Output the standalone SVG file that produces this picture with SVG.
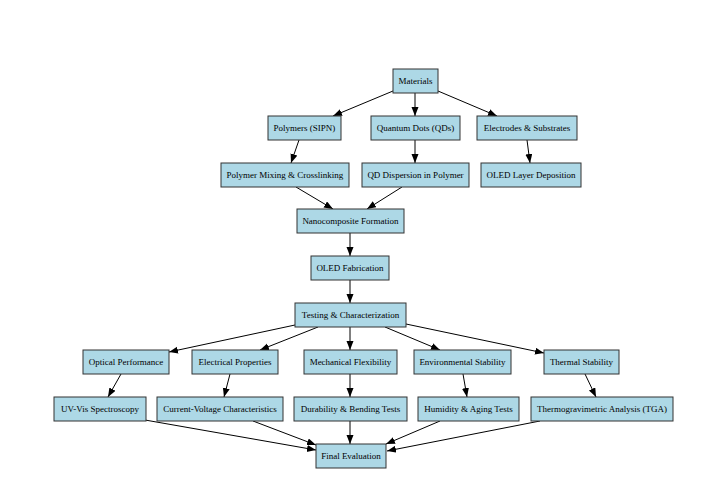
<svg xmlns="http://www.w3.org/2000/svg" width="716" height="480" viewBox="0 0 716 480">
<defs>
<style>
.n rect{fill:#add8e6;stroke:#333;stroke-width:1}
.n text{font-family:"Liberation Serif","Times New Roman",serif;font-size:9px;fill:#000;text-anchor:middle;dominant-baseline:central}
.e line{stroke:#000;stroke-width:1;marker-end:url(#ah)}
</style>
<marker id="ah" markerUnits="userSpaceOnUse" markerWidth="10" markerHeight="8" refX="9" refY="3.5" orient="auto">
<path d="M0,0 L9,3.5 L0,7 Z" fill="#000"/>
</marker>
</defs>
<rect width="716" height="480" fill="#fff"/>
<g id="edges" class="e">
<line x1="393" y1="91" x2="333" y2="116"/>
<line x1="415" y1="93" x2="415" y2="116"/>
<line x1="438" y1="91" x2="497" y2="116"/>
<line x1="299" y1="140" x2="291" y2="163"/>
<line x1="415" y1="140" x2="415" y2="163"/>
<line x1="527" y1="140" x2="530" y2="163"/>
<line x1="296" y1="187" x2="333" y2="209"/>
<line x1="402" y1="187" x2="367" y2="209"/>
<line x1="350" y1="233" x2="350" y2="256"/>
<line x1="350" y1="280" x2="350" y2="303"/>
<line x1="295" y1="325" x2="169" y2="352"/>
<line x1="318" y1="327" x2="260" y2="350"/>
<line x1="350" y1="327" x2="350" y2="350"/>
<line x1="385" y1="327" x2="440" y2="350"/>
<line x1="406" y1="324" x2="544" y2="353"/>
<line x1="121" y1="374" x2="108" y2="397"/>
<line x1="230" y1="374" x2="224" y2="397"/>
<line x1="350" y1="374" x2="350" y2="397"/>
<line x1="463" y1="374" x2="467" y2="397"/>
<line x1="585" y1="374" x2="596" y2="397"/>
<line x1="145" y1="420" x2="316" y2="450"/>
<line x1="253" y1="421" x2="316" y2="445"/>
<line x1="350" y1="421" x2="350" y2="444"/>
<line x1="440" y1="421" x2="386" y2="444"/>
<line x1="540" y1="421" x2="387" y2="451"/>
</g>
<g id="n_materials" class="n"><rect x="393" y="69" width="45" height="24"/><text x="415.5" y="81">Materials</text></g>
<g id="n_polymers" class="n"><rect x="268" y="116" width="73" height="24"/><text x="304.5" y="128">Polymers (SIPN)</text></g>
<g id="n_qds" class="n"><rect x="371" y="116" width="89" height="24"/><text x="415.5" y="128">Quantum Dots (QDs)</text></g>
<g id="n_electrodes" class="n"><rect x="477" y="116" width="100" height="24"/><text x="527" y="128">Electrodes &amp; Substrates</text></g>
<g id="n_mixing" class="n"><rect x="221" y="163" width="128" height="24"/><text x="285" y="175">Polymer Mixing &amp; Crosslinking</text></g>
<g id="n_qddisp" class="n"><rect x="362" y="163" width="107" height="24"/><text x="415.5" y="175">QD Dispersion in Polymer</text></g>
<g id="n_oledlayer" class="n"><rect x="481" y="163" width="100" height="24"/><text x="531" y="175">OLED Layer Deposition</text></g>
<g id="n_nano" class="n"><rect x="297" y="209" width="107" height="24"/><text x="350.5" y="221">Nanocomposite Formation</text></g>
<g id="n_oledfab" class="n"><rect x="311" y="256" width="78" height="24"/><text x="350" y="268">OLED Fabrication</text></g>
<g id="n_testing" class="n"><rect x="295" y="303" width="111" height="24"/><text x="350.5" y="315">Testing &amp; Characterization</text></g>
<g id="n_optical" class="n"><rect x="83" y="350" width="86" height="24"/><text x="126" y="362">Optical Performance</text></g>
<g id="n_electrical" class="n"><rect x="192" y="350" width="86" height="24"/><text x="235" y="362">Electrical Properties</text></g>
<g id="n_mechanical" class="n"><rect x="304" y="350" width="93" height="24"/><text x="350.5" y="362">Mechanical Flexibility</text></g>
<g id="n_environmental" class="n"><rect x="414" y="350" width="97" height="24"/><text x="462.5" y="362">Environmental Stability</text></g>
<g id="n_thermal" class="n"><rect x="544" y="350" width="75" height="24"/><text x="581.5" y="362">Thermal Stability</text></g>
<g id="n_uvvis" class="n"><rect x="54" y="397" width="92" height="24"/><text x="100" y="409">UV-Vis Spectroscopy</text></g>
<g id="n_cv" class="n"><rect x="157" y="397" width="126" height="24"/><text x="220" y="409">Current-Voltage Characteristics</text></g>
<g id="n_durability" class="n"><rect x="294" y="397" width="113" height="24"/><text x="350.5" y="409">Durability &amp; Bending Tests</text></g>
<g id="n_humidity" class="n"><rect x="418" y="397" width="101" height="24"/><text x="468.5" y="409">Humidity &amp; Aging Tests</text></g>
<g id="n_tga" class="n"><rect x="531" y="397" width="142" height="24"/><text x="602" y="409">Thermogravimetric Analysis (TGA)</text></g>
<g id="n_final" class="n"><rect x="316" y="444" width="70" height="24"/><text x="351" y="456">Final Evaluation</text></g>
</svg>
